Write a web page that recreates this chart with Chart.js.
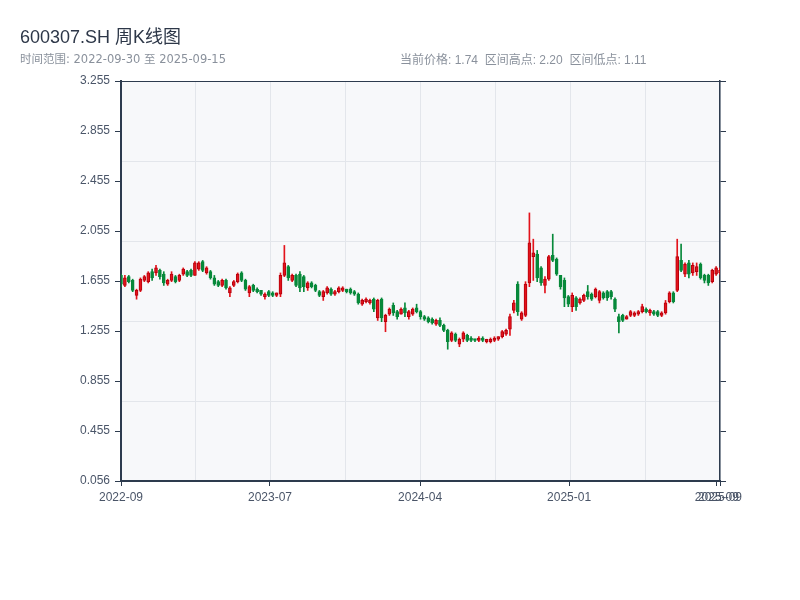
<!DOCTYPE html>
<html>
<head>
<meta charset="utf-8">
<script src="https://cdn.jsdelivr.net/npm/chart.js@4.4.1/dist/chart.umd.min.js"></script>
<style>
  body { margin: 0; background: #fff; font-family: "Liberation Sans", "Noto Sans CJK SC", sans-serif; }
  #wrap { position: relative; width: 800px; height: 600px; }
  #title { position: absolute; left: 20px; top: 22px; font-size: 18px; color: #2d3748; }
  .sub { position: absolute; top: 50px; font-size: 12px; color: #8a919c; white-space: pre; }
  .sub.wide { font-family: "DejaVu Sans", "Noto Sans CJK SC", sans-serif; font-size: 11.5px; }
</style>
</head>
<body>
<div id="wrap">
  <canvas id="kChart" width="800" height="600"></canvas>
  <div id="title">600307.SH 周K线图</div>
  <div class="sub wide" style="left:20px">时间范围: 2022-09-30 至 2025-09-15</div>
  <div class="sub" style="left:400px">当前价格: 1.74  区间高点: 2.20  区间低点: 1.11</div>
</div>
<script>
// 周K数据 (按周序号排列)
const opens = [
  1.70,1.62,1.69,1.66,1.54,1.58,1.66,1.65,1.73,1.72,1.74,1.71,1.63,1.66,1.69,1.66,1.71,1.73,1.74,1.70,
  1.75,1.81,1.72,1.73,1.68,1.65,1.62,1.66,1.56,1.62,1.65,1.72,1.66,1.56,1.62,1.59,1.58,1.53,1.57,1.56,
  1.54,1.55,1.70,1.77,1.66,1.70,1.71,1.69,1.60,1.64,1.62,1.57,1.53,1.56,1.59,1.55,1.57,1.58,1.59,1.59,
  1.57,1.55,1.47,1.49,1.48,1.51,1.36,1.51,1.33,1.39,1.46,1.41,1.39,1.44,1.37,1.39,1.44,1.41,1.37,1.36,
  1.35,1.31,1.34,1.30,1.26,1.18,1.23,1.15,1.19,1.22,1.20,1.19,1.18,1.20,1.17,1.17,1.18,1.19,1.21,1.23,
  1.27,1.42,1.63,1.35,1.38,1.64,1.85,1.87,1.76,1.62,1.67,1.86,1.83,1.70,1.66,1.53,1.45,1.52,1.48,1.50,
  1.57,1.55,1.53,1.50,1.56,1.57,1.57,1.51,1.37,1.38,1.35,1.38,1.38,1.39,1.41,1.43,1.40,1.41,1.41,1.38,
  1.40,1.49,1.56,1.58,1.82,1.71,1.80,1.72,1.73,1.79,1.70,1.70,1.65,1.71,1.72
];
const highs = [
  1.71,1.70,1.70,1.67,1.59,1.68,1.70,1.73,1.75,1.78,1.75,1.73,1.67,1.73,1.70,1.71,1.76,1.74,1.75,1.81,
  1.81,1.82,1.77,1.74,1.70,1.66,1.67,1.67,1.61,1.66,1.72,1.73,1.67,1.62,1.63,1.60,1.58,1.56,1.58,1.57,
  1.56,1.72,1.94,1.78,1.71,1.71,1.73,1.70,1.65,1.65,1.63,1.58,1.58,1.61,1.60,1.58,1.61,1.61,1.59,1.60,
  1.58,1.56,1.51,1.52,1.51,1.52,1.51,1.52,1.39,1.44,1.48,1.42,1.44,1.48,1.42,1.44,1.47,1.42,1.38,1.37,
  1.36,1.35,1.36,1.31,1.27,1.25,1.24,1.20,1.25,1.23,1.21,1.19,1.21,1.21,1.19,1.20,1.21,1.21,1.26,1.27,
  1.39,1.50,1.65,1.41,1.65,2.20,1.99,1.90,1.77,1.69,1.86,2.03,1.84,1.70,1.68,1.54,1.56,1.53,1.52,1.55,
  1.62,1.56,1.60,1.58,1.57,1.58,1.58,1.52,1.39,1.39,1.38,1.42,1.41,1.42,1.47,1.44,1.43,1.42,1.42,1.41,
  1.50,1.57,1.57,1.99,1.95,1.80,1.82,1.80,1.80,1.80,1.71,1.71,1.75,1.77,1.76
];
const lows = [
  1.61,1.61,1.64,1.57,1.51,1.57,1.65,1.64,1.66,1.70,1.67,1.62,1.62,1.65,1.64,1.65,1.70,1.69,1.69,1.70,
  1.74,1.73,1.71,1.67,1.62,1.61,1.61,1.59,1.53,1.61,1.64,1.65,1.58,1.53,1.57,1.56,1.54,1.51,1.53,1.53,
  1.53,1.53,1.69,1.66,1.65,1.61,1.57,1.57,1.58,1.60,1.57,1.53,1.50,1.55,1.54,1.54,1.56,1.57,1.56,1.55,
  1.54,1.47,1.46,1.48,1.47,1.41,1.34,1.33,1.25,1.38,1.38,1.35,1.39,1.37,1.35,1.38,1.40,1.35,1.34,1.32,
  1.31,1.30,1.29,1.25,1.11,1.17,1.17,1.13,1.17,1.17,1.17,1.17,1.17,1.17,1.16,1.16,1.17,1.18,1.20,1.22,
  1.22,1.40,1.38,1.34,1.37,1.61,1.66,1.65,1.62,1.56,1.66,1.81,1.70,1.59,1.45,1.45,1.41,1.42,1.47,1.49,
  1.51,1.50,1.52,1.48,1.51,1.50,1.51,1.41,1.24,1.33,1.35,1.37,1.37,1.38,1.40,1.40,1.38,1.38,1.37,1.37,
  1.39,1.48,1.48,1.57,1.73,1.69,1.68,1.70,1.70,1.67,1.64,1.62,1.64,1.70,1.71
];
const closes = [
  1.63,1.68,1.65,1.58,1.58,1.67,1.69,1.72,1.68,1.76,1.69,1.64,1.66,1.71,1.65,1.70,1.75,1.70,1.70,1.80,
  1.80,1.74,1.76,1.68,1.63,1.62,1.66,1.60,1.60,1.65,1.71,1.66,1.59,1.61,1.58,1.57,1.55,1.55,1.54,1.54,
  1.56,1.70,1.80,1.68,1.70,1.62,1.60,1.61,1.64,1.61,1.58,1.54,1.57,1.60,1.55,1.57,1.60,1.60,1.57,1.56,
  1.55,1.48,1.50,1.51,1.50,1.43,1.50,1.36,1.38,1.43,1.40,1.37,1.43,1.40,1.41,1.43,1.41,1.37,1.35,1.33,
  1.32,1.34,1.30,1.26,1.17,1.24,1.18,1.19,1.24,1.18,1.18,1.18,1.20,1.18,1.19,1.19,1.20,1.21,1.25,1.26,
  1.37,1.48,1.41,1.40,1.63,1.96,1.88,1.68,1.64,1.67,1.85,1.82,1.71,1.61,1.52,1.47,1.54,1.45,1.51,1.54,
  1.53,1.51,1.59,1.57,1.52,1.52,1.53,1.43,1.33,1.34,1.37,1.41,1.40,1.41,1.45,1.41,1.42,1.39,1.38,1.40,
  1.48,1.56,1.49,1.85,1.74,1.79,1.71,1.78,1.77,1.68,1.66,1.64,1.74,1.76,1.74
];

// 坐标轴刻度
const xTickPos = [0, 38.3, 76.9, 115.2, 153.2, 154];
const xTickLabels = ['2022-09', '2023-07', '2024-04', '2025-01', '2025-09', '2025-09'];
const yTickVals = [0.056, 0.455, 0.855, 1.255, 1.655, 2.055, 2.455, 2.855, 3.255];

const UP = '#e3131b', UP_EDGE = '#b5000c';
const DOWN = '#07893a';
const AXIS = '#2d3b4e';
const GRID = '#e3e6eb';

Chart.defaults.font.family = '"Liberation Sans", "Noto Sans CJK SC", sans-serif';

const isUp = opens.map((o, i) => closes[i] >= o);

// 绘图区背景
const plotBg = {
  id: 'plotBg',
  beforeDraw(chart) {
    const a = chart.chartArea;
    const ctx = chart.ctx;
    ctx.save();
    ctx.fillStyle = '#f7f8fa';
    ctx.fillRect(a.left, a.top, a.right - a.left, a.bottom - a.top);
    ctx.restore();
  }
};

function setTicks(vals) {
  return scale => { scale.ticks = vals.map(v => ({ value: v })); };
}

new Chart(document.getElementById('kChart'), {
  type: 'bar',
  data: {
    datasets: [
      {
        label: 'wick',
        data: highs.map((h, i) => ({ x: i, y: [lows[i], h] })),
        backgroundColor: isUp.map(u => u ? UP : DOWN),
        barThickness: 1,
        grouped: false,
        order: 2
      },
      {
        label: 'body',
        data: opens.map((o, i) => ({ x: i, y: [o, closes[i]] })),
        backgroundColor: isUp.map(u => u ? UP : DOWN),
        borderColor: isUp.map(u => u ? UP_EDGE : DOWN),
        borderWidth: 1,
        borderSkipped: false,
        barThickness: 3,
        minBarLength: 2,
        grouped: false,
        order: 1
      }
    ]
  },
  options: {
    responsive: false,
    animation: false,
    layout: { padding: { top: 81, left: 0, right: 0, bottom: 0 } },
    plugins: { legend: { display: false }, tooltip: { enabled: false } },
    scales: {
      x: {
        type: 'linear', position: 'bottom', min: 0, max: 154, offset: false, z: 1,
        afterBuildTicks: setTicks(xTickPos),
        afterFit: s => { s.height = 119; },
        ticks: {
          autoSkip: false, maxRotation: 0, padding: 4, color: '#4a5568', font: { size: 12 },
          callback: (v, i) => xTickLabels[i]
        },
        grid: { drawOnChartArea: false, tickLength: 5, color: AXIS, offset: false },
        border: { color: AXIS, width: 2 }
      },
      gx: {
        type: 'linear', position: 'top', min: 0, max: 8, offset: false,
        afterBuildTicks: setTicks([0, 1, 2, 3, 4, 5, 6, 7, 8]),
        afterFit: s => { s.height = 0; },
        ticks: { display: false },
        grid: { color: GRID, drawTicks: false, offset: false },
        border: { color: AXIS, width: 1 }
      },
      y: {
        type: 'linear', position: 'left', min: 0.056, max: 3.255, z: 1,
        afterBuildTicks: setTicks(yTickVals),
        afterFit: s => { s.width = 121; },
        ticks: { padding: 5, color: '#4a5568', font: { size: 12 }, callback: v => v.toFixed(3) },
        grid: { drawOnChartArea: false, tickLength: 6, color: AXIS },
        border: { color: AXIS, width: 2 }
      },
      y2: {
        type: 'linear', position: 'right', min: 0.056, max: 3.255, z: 1,
        afterBuildTicks: setTicks(yTickVals),
        afterFit: s => { s.width = 80; },
        ticks: { display: false },
        grid: { drawOnChartArea: false, tickLength: 6, color: AXIS },
        border: { color: AXIS, width: 1.5 }
      },
      gy: {
        type: 'linear', position: 'right', min: 0, max: 5,
        afterBuildTicks: setTicks([0, 1, 2, 3, 4, 5]),
        afterFit: s => { s.width = 0; },
        ticks: { display: false },
        grid: { color: GRID, drawTicks: false },
        border: { display: false }
      }
    }
  },
  plugins: [plotBg]
});
</script>
</body>
</html>
